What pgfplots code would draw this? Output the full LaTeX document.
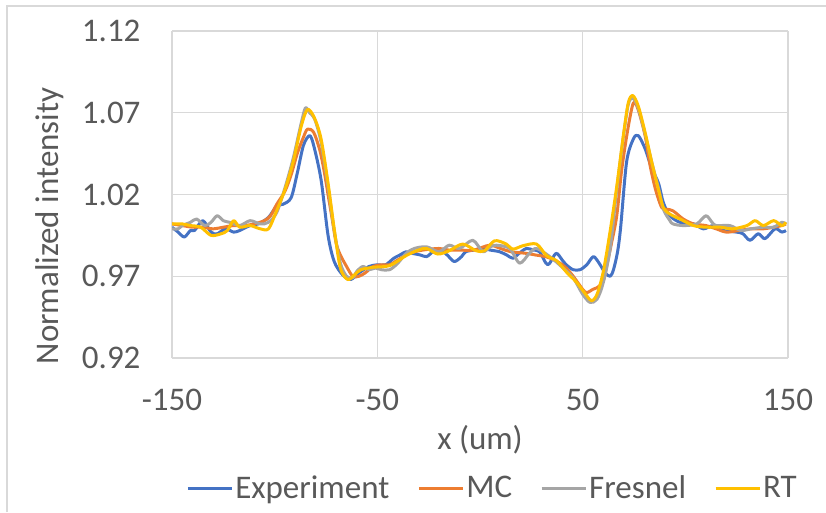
\documentclass[border=0pt]{standalone}
\usepackage{pgfplots}
\pgfplotsset{compat=1.18}
\usepackage{fontspec}
\setmainfont{Carlito}
\definecolor{cExp}{HTML}{4472C4}
\definecolor{cMC}{HTML}{ED7D31}
\definecolor{cFr}{HTML}{A5A5A5}
\definecolor{cRT}{HTML}{FFC000}
\definecolor{txt}{HTML}{595959}
\definecolor{grd}{HTML}{D9D9D9}
\begin{document}
\begin{tikzpicture}
\useasboundingbox (0,0) rectangle (826pt,512pt);
\draw[grd, line width=1.2pt] (7pt,0pt) -- (7pt,506pt) -- (826pt,506pt);
\begin{axis}[
  at={(172pt,154pt)}, anchor=south west,
  width=616pt, height=327pt, scale only axis,
  xmin=-150, xmax=150, ymin=0.92, ymax=1.12,
  xtick={-150,-50,50,150},
  ytick={0.92,0.97,1.02,1.07,1.12},
  grid=major, major grid style={grd, line width=1.2pt},
  axis line style={draw=none},
  major tick length=0pt,
  tick label style={font=\fontsize{33}{40}\selectfont, text=txt},
  /pgf/number format/assume math mode=true,
  yticklabel style={/pgf/number format/.cd, fixed, fixed zerofill, precision=2, /tikz/.cd, anchor=east, xshift=-28pt},
  xticklabel style={anchor=north, yshift=-28pt},
  xlabel={x (um)},
  xlabel style={at={(axis description cs:0.5,-0.2508)}, anchor=center, font=\fontsize{33}{40}\selectfont, text=txt},
  ylabel={Normalized intensity},
  ylabel style={at={(axis description cs:-0.198,0.4037)}, anchor=center, rotate=0, font=\fontsize{33}{40}\selectfont, text=txt},
  legend columns=4,
  legend style={at={(axis description cs:0.5203,-0.3976)}, anchor=center, draw=none, fill=none,
    font=\fontsize{33}{40}\selectfont, text=txt,
    /tikz/every even column/.append style={column sep=26pt}},
  legend image code/.code={\draw[#1, line width=3pt] (0pt,0pt) -- (44pt,0pt);},
  every axis plot/.append style={line width=3pt, line join=round, smooth, tension=0.5},
]
\addplot[cExp] coordinates {
(-150,1.000) (-147,0.997) (-144,0.994) (-141,0.998) (-139,0.998) (-135,1.004)
(-131,0.997) (-128,0.996) (-124,0.999) (-120,0.997) (-117,0.998) (-112,1.001)
(-108,1.002) (-103,1.006) (-99,1.013) (-96,1.014) (-92,1.018) (-89,1.033)
(-86,1.050) (-83,1.056) (-81,1.050) (-77.4,1.029) (-74,0.995) (-71,0.979)
(-67,0.971) (-63,0.968) (-59,0.972) (-54,0.976) (-50,0.977) (-46,0.977)
(-42,0.981) (-39,0.983) (-36,0.985) (-33,0.984) (-29,0.983) (-26,0.982)
(-23,0.985) (-20,0.987) (-16,0.983) (-12.5,0.979) (-9,0.982) (-7,0.985)
(-3,0.986) (1.4,0.987) (5,0.986) (9.5,0.985) (13,0.983) (16,0.981)
(19,0.984) (22.6,0.987) (26,0.986) (29,0.985) (33,0.977) (37,0.984)
(40,0.980) (42,0.977) (45.4,0.974) (48.7,0.974) (52,0.977) (55.2,0.982)
(58,0.978) (61,0.972) (63.4,0.970) (65,0.974) (67,0.985) (68.5,1.000)
(71.4,1.040) (74.7,1.054) (77.1,1.056) (80.4,1.048) (83.6,1.036) (86.9,1.027)
(89.3,1.015) (92.5,1.007) (97.4,1.003) (104,1.002) (108.8,0.999) (113.6,1.001)
(118.5,0.998) (125,0.997) (128,0.996) (131.5,0.992) (135.5,0.996) (138.8,0.993)
(143.7,0.999) (147,0.997) (149,0.998)
};
\addlegendentry{Experiment}
\addplot[cMC] coordinates {
(-150,1.002) (-145,1.001) (-140,1.000) (-135,1.000) (-130,0.999) (-125,1.000)
(-120,1.001) (-115,1.001) (-110,1.002) (-105,1.004) (-102,1.007) (-99,1.014)
(-95,1.022) (-92,1.032) (-89,1.045) (-86,1.055) (-84,1.060) (-81,1.058)
(-78,1.047) (-76,1.035) (-74,1.020) (-72,1.005) (-70,0.990) (-68,0.983)
(-65,0.976) (-62,0.970) (-59,0.970) (-56,0.972) (-52,0.976) (-48,0.977)
(-44,0.977) (-40,0.980) (-34.5,0.984) (-28,0.986) (-20,0.987) (-15,0.986)
(-10,0.986) (-3,0.986) (4.6,0.989) (10,0.987) (15,0.985) (22.6,0.984)
(27,0.983) (32,0.982) (36,0.980) (39,0.978) (42,0.975) (45.4,0.970)
(50,0.962) (52,0.960) (55,0.962) (57,0.963) (60,0.967) (62,0.978)
(64,0.990) (66.6,1.007) (69,1.035) (72,1.060) (74.7,1.076) (77,1.072)
(80.4,1.056) (82.8,1.038) (85.5,1.023) (88.5,1.012) (91,1.011) (94,1.010)
(99,1.005) (104,1.002) (110,1.001) (115,0.999) (120,0.997) (126,0.998)
(132,0.999) (138,0.999) (143,1.000) (147,1.001) (149,1.002)
};
\addlegendentry{MC}
\addplot[cFr] coordinates {
(-150,0.999) (-147,0.999) (-145,1.001) (-141,1.003) (-138,1.005) (-134,1.001)
(-131,1.003) (-128,1.007) (-125,1.004) (-122,1.003) (-117,1.001) (-112,1.004)
(-107,1.002) (-103,1.003) (-99,1.009) (-95,1.024) (-91,1.042) (-87,1.064)
(-85,1.073) (-83,1.070) (-80.5,1.066) (-77.4,1.052) (-74,1.025) (-71,0.998)
(-68,0.978) (-65,0.970) (-62,0.969) (-60,0.973) (-57,0.976) (-54,0.974)
(-51,0.975) (-48,0.974) (-44,0.974) (-40,0.978) (-36,0.984) (-32,0.987)
(-26,0.988) (-20,0.985) (-15,0.989) (-10,0.987) (-3.5,0.992) (1.4,0.985)
(5,0.988) (8,0.989) (14.4,0.987) (19.3,0.978) (24,0.984) (27.5,0.987)
(34,0.982) (40.5,0.975) (45.4,0.969) (50,0.959) (53.6,0.954) (57,0.956)
(60,0.966) (63.4,0.987) (66.6,1.023) (69.8,1.055) (72.2,1.075) (74.4,1.079)
(77,1.073) (80.4,1.057) (83.6,1.040) (86.9,1.024) (89.3,1.011) (92.5,1.004)
(94,1.002) (99,1.001) (105.5,1.002) (110,1.007) (113,1.003) (115,1.001)
(121.7,1.001) (127,0.998) (132,0.999) (138,1.000) (143,1.000) (147,1.003)
(149,1.002)
};
\addlegendentry{Fresnel}
\addplot[cRT] coordinates {
(-150,1.002) (-145,1.002) (-141,1.001) (-136,1.000) (-131,0.995) (-126,0.996)
(-123,0.998) (-120,1.004) (-117,1.000) (-112,1.001) (-107,0.999) (-103,0.999)
(-99.4,1.009) (-95,1.023) (-91,1.040) (-87,1.062) (-84,1.072) (-80.7,1.067)
(-77.4,1.054) (-74,1.027) (-71,0.999) (-68,0.975) (-64.4,0.968) (-61,0.971)
(-58,0.974) (-52,0.9755) (-44,0.9765) (-36,0.9826) (-30,0.986) (-26,0.987)
(-20.6,0.9836) (-15,0.9856) (-8.4,0.9897) (-1.9,0.9856) (2.2,0.9856) (7.1,0.9917)
(12.8,0.9897) (16,0.9866) (21,0.9887) (27.5,0.9897) (32.4,0.9826) (37.3,0.9795)
(42.2,0.9724) (47,0.9663) (52,0.958) (54.4,0.955) (57,0.959) (60,0.9726)
(63.3,0.997) (66.6,1.025) (69.8,1.056) (72.2,1.076) (74.4,1.0805) (77.1,1.074)
(80.4,1.058) (83.6,1.040) (86.9,1.023) (89.3,1.012) (92.5,1.008) (97.4,1.005)
(104,1.001) (110,1.000) (117,1.000) (123,0.999) (130,1.001) (134,1.004)
(138,1.001) (143,1.004) (147,1.001) (149,1.003)
};
\addlegendentry{RT}
\end{axis}
\end{tikzpicture}
\end{document}
